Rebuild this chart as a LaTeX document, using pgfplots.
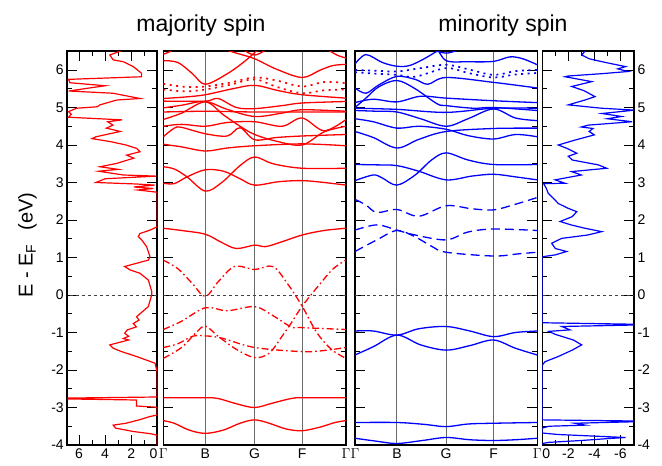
\documentclass[border=0pt]{standalone}
\usepackage{fontspec}
\setmainfont{Liberation Sans}
\usepackage{pgfplots}
\pgfplotsset{compat=1.18}

\definecolor{majred}{RGB}{255,0,0}
\definecolor{minblue}{RGB}{0,0,255}
\definecolor{kline}{RGB}{105,105,105}

\pgfplotsset{
  panel/.style={scale only axis, height=393.75pt, anchor=south west,
    ymin=-4, ymax=6.5, ytick={-4,...,6}, minor y tick num=1,
    tick align=inside, major tick length=10pt, minor tick length=5pt,
    axis line style={line width=1.6pt}, tick style={black, line width=0.9pt},
    tick label style={font=\fontsize{14}{16}\selectfont},
    /pgf/number format/assume math mode=true},
  band/.style={panel, xmin=0, xmax=1,
    xtick={0,0.23,0.5,0.76,1}, xticklabels={$\Gamma$,B,G,F,$\Gamma$},
    xmajorgrids, major x grid style={kline, line width=0.9pt},
    xtick style={draw=none}, yticklabels={}},
  ef/.style={dashed, black!75, line width=0.6pt, forget plot},
  maj/.style={majred, line width=1.3pt, smooth, tension=0.55},
  mino/.style={minblue, line width=1.3pt, smooth, tension=0.55},
  dd/.style={dash pattern=on 7pt off 3pt on 1.6pt off 3pt},
  dt/.style={dash pattern=on 2pt off 4.5pt, line width=1.7pt},
  ds/.style={dash pattern=on 9pt off 5pt},
}

\begin{document}
\begin{tikzpicture}

% ---------------- majority DOS ----------------
\begin{axis}[panel, at={(67.3pt,21pt)}, width=90pt,
  xmin=0, xmax=6.9, x dir=reverse, xtick={0,2,4,6},
  xticklabels={\makebox[0pt][r]{0},2,4,6},
  minor x tick num=1,
  yticklabels={-4,-3,-2,-1,0,1,2,3,4,5,6}]
\addplot[ef] coordinates {(0,0) (7.2,0)};
\addplot[majred, line width=1.2pt] coordinates {
(2.49,6.55)(3.64,6.4)(3.38,6.27)(2.6,6.22)(1.84,6.09)(1.2,5.91)(1.2,5.82)
(6.8,5.75)(6.7,5.66)(4.0,5.58)(6.8,5.44)(3.4,5.38)(1.33,5.24)(3.1,5.2)
(4.4,5.07)(4.6,5.02)(6.2,4.98)(6.8,4.89)(6.6,4.82)(6.8,4.74)(2.7,4.67)
(3.8,4.62)(3.4,4.53)(3.9,4.45)(2.85,4.36)(4.7,4.22)(5.0,4.17)(3.6,4.09)
(2.4,4.0)(1.59,3.91)(1.33,3.82)(2.35,3.73)(1.8,3.65)(3.1,3.51)(4.4,3.42)
(3.0,3.35)(4.5,3.3)(2.6,3.2)(0.1,3.17)(4.0,3.1)(4.7,3.0)(1.6,2.96)(0.2,2.93)
(1.8,2.88)(0.3,2.84)(1.5,2.8)(0,2.74)(0,1.82)(0.56,1.73)(1.33,1.64)
(1.46,1.56)(1.2,1.47)(0.82,1.29)(0.56,1.02)(0.69,0.93)(2.5,0.76)(2.1,0.67)
(1.33,0.58)(0.69,0.4)(0.43,0.1)(0.43,0)(0.69,-0.31)(1.59,-0.58)(1.4,-0.67)
(1.84,-0.76)(1.6,-0.85)(2.3,-0.93)(2.5,-1.02)(2.2,-1.1)(2.6,-1.16)(2.2,-1.2)
(3.64,-1.33)(3.38,-1.42)(2.74,-1.51)(1.59,-1.64)(0.17,-1.82)(0.05,-2.0)
(0,-2.05)(0,-2.72)(7.2,-2.75)(7.2,-2.77)(1.6,-2.8)(1.6,-2.96)(0.2,-2.99)
(0,-3.0)(0,-3.2)(0.56,-3.24)(1.4,-3.33)(2.4,-3.42)(3.38,-3.47)(3.2,-3.55)
(1.84,-3.64)(0.5,-3.7)(0,-3.74)(0,-4.05)};
\end{axis}

% ---------------- majority bands ----------------
\begin{axis}[band, at={(163.3pt,21pt)}, width=182.7pt]
\addplot[ef] coordinates {(0,0) (1,0)};
% valence
\addplot[maj] coordinates {(0,-3.35)(0.06,-3.42)(0.14,-3.6)(0.23,-3.69)(0.33,-3.6)(0.42,-3.42)(0.5,-3.33)(0.58,-3.42)(0.67,-3.57)(0.76,-3.62)(0.86,-3.52)(0.94,-3.4)(1,-3.35)};
\addplot[maj] coordinates {(0,-2.74)(0.23,-2.74)(0.3,-2.76)(0.4,-2.9)(0.5,-3.0)(0.6,-2.88)(0.7,-2.76)(0.76,-2.74)(1,-2.74)};
% bands near the Fermi level
\addplot[maj,dd] coordinates {(0,0.93)(0.08,0.7)(0.16,0.3)(0.23,-0.04)(0.3,0.35)(0.39,0.76)(0.5,0.68)(0.6,0.76)(0.68,0.3)(0.76,-0.3)(0.84,-1.0)(0.92,-1.45)(1,-1.69)};
\addplot[maj,dd] coordinates {(0,-1.69)(0.1,-1.4)(0.18,-1.0)(0.23,-0.83)(0.3,-1.1)(0.4,-1.45)(0.5,-1.67)(0.58,-1.55)(0.65,-1.1)(0.7,-0.75)(0.76,-0.3)(0.85,0.25)(0.93,0.7)(1,0.93)};
\addplot[maj,dd] coordinates {(0,-0.92)(0.1,-0.7)(0.23,-0.34)(0.35,-0.42)(0.5,-0.31)(0.6,-0.55)(0.7,-0.85)(0.76,-0.87)(1,-0.92)};
\addplot[maj,dd] coordinates {(0,-1.4)(0.08,-1.3)(0.16,-1.1)(0.23,-1.09)(0.32,-1.15)(0.5,-1.4)(0.76,-1.51)(0.88,-1.48)(1,-1.4)};
% conduction
\addplot[maj] coordinates {(0,1.78)(0.1,1.72)(0.23,1.62)(0.32,1.4)(0.4,1.24)(0.5,1.33)(0.56,1.29)(0.65,1.42)(0.76,1.6)(0.88,1.72)(1,1.78)};
\addplot[maj] coordinates {(0,2.98)(0.06,2.97)(0.13,3.15)(0.23,3.34)(0.33,3.3)(0.42,3.1)(0.5,2.93)(0.63,3.02)(0.76,3.05)(0.88,3.0)(1,2.93)};
\addplot[maj] coordinates {(0,3.42)(0.06,3.36)(0.13,3.15)(0.23,2.77)(0.32,3.0)(0.42,3.45)(0.5,3.68)(0.6,3.5)(0.76,3.38)(1,3.38)};
\addplot[maj] coordinates {(0,4.02)(0.1,3.95)(0.23,3.84)(0.35,3.92)(0.5,3.98)(0.76,4.03)(1,3.98)};
\addplot[maj] coordinates {(0,4.22)(0.06,4.45)(0.1,4.47)(0.23,4.3)(0.35,4.24)(0.42,4.46)(0.5,4.14)(0.62,4.2)(0.76,4.24)(1,4.28)};
\addplot[maj] coordinates {(0,4.68)(0.1,4.85)(0.23,5.15)(0.33,4.8)(0.42,4.5)(0.5,4.28)(0.62,4.1)(0.76,4.0)(0.88,4.35)(1,4.5)};
\addplot[maj] coordinates {(0,4.5)(0.1,4.55)(0.23,4.5)(0.35,4.6)(0.5,4.62)(0.65,4.5)(0.76,4.72)(0.88,4.38)(1,4.68)};
\addplot[maj] coordinates {(0,4.88)(0.23,4.9)(0.5,4.88)(0.76,4.88)(1,4.88)};
\addplot[maj] coordinates {(0,4.99)(0.1,5.06)(0.23,5.16)(0.35,4.95)(0.5,4.76)(0.65,4.85)(0.76,4.94)(1,4.9)};
\addplot[maj] coordinates {(0,5.17)(0.23,5.17)(0.3,5.24)(0.4,5.0)(0.5,4.97)(0.65,5.05)(0.76,5.12)(1,5.16)};
\addplot[maj] coordinates {(0,5.24)(0.12,5.28)(0.23,5.34)(0.38,5.5)(0.5,5.59)(0.63,5.45)(0.76,5.34)(1,5.25)};
\addplot[maj,dt] coordinates {(0,5.63)(0.12,5.55)(0.23,5.56)(0.36,5.66)(0.5,5.8)(0.62,5.72)(0.76,5.56)(0.88,5.68)(1,5.65)};
\addplot[maj,dt] coordinates {(0,5.48)(0.12,5.43)(0.23,5.48)(0.36,5.6)(0.5,5.75)(0.62,5.55)(0.76,5.38)(0.88,5.46)(1,5.48)};
\addplot[maj] coordinates {(0,6.25)(0.08,6.2)(0.16,5.9)(0.23,5.62)(0.35,5.9)(0.45,6.25)(0.53,6.6)};
\addplot[maj] coordinates {(0.3,6.6)(0.4,6.45)(0.5,6.3)(0.62,6.02)(0.76,5.8)(0.86,6.0)(0.93,6.12)(1,6.15)};
\addplot[maj] coordinates {(0.88,6.6)(0.95,6.4)(1,6.32)};
\addplot[maj] coordinates {(0.42,6.6)(0.5,6.4)(0.58,6.6)};
\addplot[maj] coordinates {(0,6.42)(0.04,6.5)(0.06,6.6)};
\end{axis}

% ---------------- minority bands ----------------
\begin{axis}[band, at={(355pt,21pt)}, width=182.3pt]
\addplot[ef] coordinates {(0,0) (1,0)};
\addplot[mino] coordinates {(0,-3.82)(0.12,-3.9)(0.23,-3.96)(0.37,-3.88)(0.5,-3.8)(0.63,-3.86)(0.76,-3.88)(0.88,-3.86)(1,-3.82)};
\addplot[mino] coordinates {(0,-3.4)(0.23,-3.4)(0.38,-3.45)(0.5,-3.51)(0.62,-3.44)(0.76,-3.42)(1,-3.4)};
\addplot[mino] coordinates {(0,-0.96)(0.1,-0.96)(0.23,-1.07)(0.35,-0.9)(0.5,-0.84)(0.63,-0.96)(0.76,-1.11)(0.88,-1.0)(1,-0.96)};
\addplot[mino] coordinates {(0,-1.6)(0.1,-1.38)(0.23,-1.07)(0.36,-1.33)(0.5,-1.47)(0.63,-1.35)(0.76,-1.2)(0.88,-1.42)(1,-1.6)};
% dashed bands
\addplot[mino,ds] coordinates {(0,2.55)(0.06,2.4)(0.12,2.2)(0.23,2.28)(0.35,2.1)(0.5,2.38)(0.64,2.3)(0.76,2.27)(0.88,2.42)(1,2.6)};
\addplot[mino,ds] coordinates {(0,1.73)(0.12,1.87)(0.23,1.73)(0.33,1.6)(0.5,1.47)(0.62,1.68)(0.76,1.76)(1,1.72)};
\addplot[mino,ds] coordinates {(0,1.16)(0.12,1.47)(0.23,1.72)(0.33,1.55)(0.42,1.3)(0.5,1.14)(0.76,1.04)(0.9,1.1)(1,1.14)};
% conduction
\addplot[mino] coordinates {(0,3.48)(0.12,3.47)(0.23,3.45)(0.35,3.3)(0.5,3.07)(0.64,3.17)(0.76,3.22)(0.88,3.15)(1,3.07)};
\addplot[mino] coordinates {(0,3.05)(0.1,3.2)(0.15,3.12)(0.23,2.93)(0.33,3.2)(0.42,3.6)(0.5,3.79)(0.62,3.6)(0.76,3.48)(1,3.48)};
\addplot[mino] coordinates {(0,4.36)(0.1,4.2)(0.23,3.92)(0.35,4.15)(0.5,4.36)(0.76,4.44)(1,4.45)};
\addplot[mino] coordinates {(0,4.7)(0.1,4.62)(0.23,4.45)(0.35,4.5)(0.5,4.42)(0.62,4.25)(0.76,4.16)(0.88,4.28)(1,4.22)};
\addplot[mino] coordinates {(0,4.92)(0.12,4.9)(0.23,4.88)(0.36,4.7)(0.5,4.5)(0.62,4.7)(0.76,4.96)(0.88,4.72)(1,4.65)};
\addplot[mino] coordinates {(0,4.98)(0.23,4.95)(0.5,4.87)(0.76,4.98)(1,4.98)};
\addplot[mino] coordinates {(0,5.13)(0.1,5.22)(0.23,5.15)(0.36,5.3)(0.5,5.25)(0.76,5.18)(1,5.13)};
\addplot[mino] coordinates {(0,5.52)(0.06,5.38)(0.13,5.6)(0.23,5.83)(0.33,5.75)(0.4,5.62)(0.5,5.8)(0.76,5.67)(1,5.52)};
\addplot[mino] coordinates {(0,5.0)(0.06,5.25)(0.13,5.55)(0.23,5.72)(0.33,5.5)(0.45,5.1)(0.5,5.05)(0.65,4.98)(0.76,5.0)(1,4.92)};
\addplot[mino,dt] coordinates {(0,6.0)(0.12,5.98)(0.23,5.96)(0.36,6.05)(0.5,6.14)(0.62,6.02)(0.76,5.87)(0.88,5.97)(1,6.0)};
\addplot[mino,dt] coordinates {(0,5.94)(0.12,5.9)(0.23,5.87)(0.33,5.82)(0.5,6.05)(0.62,5.92)(0.76,5.8)(0.88,5.88)(1,5.92)};
\addplot[mino] coordinates {(0,6.16)(0.06,6.41)(0.15,6.2)(0.23,6.1)(0.3,6.12)(0.38,6.3)(0.45,6.5)(0.5,6.6)};
\addplot[mino] coordinates {(0.45,6.6)(0.5,6.25)(0.62,6.22)(0.76,6.23)(0.85,6.35)(0.92,6.3)(1,6.14)};
\addplot[mino] coordinates {(0.4,6.6)(0.5,6.45)(0.6,6.6)};
\end{axis}

% ---------------- minority DOS ----------------
\begin{axis}[panel, at={(542.3pt,21pt)}, width=91.7pt,
  xmin=-7.05, xmax=0, x dir=reverse, xtick={0,-2,-4,-6},
  xticklabels={\makebox[0pt][l]{0},-2,-4,-6},
  minor x tick num=1, yticklabel pos=right, ytick pos=both,
  yticklabels={-4,-3,-2,-1,0,1,2,3,4,5,6}]
\addplot[ef] coordinates {(-7.2,0) (0,0)};
\addplot[minblue, line width=1.2pt] coordinates {
(-3.4,6.55)(-3.03,6.4)(-3.6,6.3)(-4.6,6.22)(-6.4,6.09)(-5.8,6.03)(-6.6,5.96)
(-4.5,5.9)(-2.0,5.84)(-1.75,5.82)(-3.8,5.69)(-2.26,5.56)(-3.2,5.45)(-4.05,5.29)
(-3.28,5.2)(-2.0,5.07)(-4.57,4.98)(-7.1,4.93)(-4.6,4.84)(-6.1,4.76)(-5.0,4.7)
(-6.9,4.62)(-3.54,4.53)(-3.0,4.48)(-3.9,4.44)(-3.6,4.36)(-4.0,4.27)(-2.5,4.13)
(-1.23,4.0)(-1.9,3.91)(-2.65,3.78)(-2.0,3.7)(-2.3,3.6)(-4.3,3.47)(-4.95,3.38)
(-2.26,3.29)(-3.0,3.2)(-0.98,3.07)(-1.75,2.98)(-0.1,2.97)(-0.3,2.85)(-0.46,2.71)
(-0.85,2.58)(-1.23,2.44)(-2.0,2.31)(-2.65,2.22)(-2.3,2.09)(-1.37,1.96)(-2.2,1.87)
(-3.28,1.78)(-4.57,1.69)(-3.5,1.6)(-1.49,1.51)(-0.72,1.38)(-1.0,1.24)(-1.87,1.16)
(-1.0,1.07)(0,1.02)(0,-0.74)(-7.1,-0.78)(-7.1,-0.8)(-1.5,-0.84)(-2.13,-0.93)
(-0.5,-0.97)(-1.0,-1.05)(-2.39,-1.2)(-3.03,-1.33)(-2.3,-1.47)(-1.23,-1.64)
(-0.2,-1.78)(0,-1.87)(0,-3.33)(-7.1,-3.36)(-7.1,-3.38)(-2.5,-3.42)(-3.3,-3.47)
(-0.5,-3.5)(0,-3.55)(0,-3.68)(-1.2,-3.72)(-6.4,-3.8)(-5.0,-3.83)(-3.0,-3.88)
(-0.5,-3.93)(0,-3.96)(0,-4.05)};
\end{axis}

\node[font=\fontsize{23}{26}\selectfont] at (201pt,440pt) {majority spin};
\node[font=\fontsize{23}{26}\selectfont] at (503pt,440pt) {minority spin};
\node[font=\fontsize{20}{22}\selectfont, rotate=90] at (27.5pt,221pt) {E - E\textsubscript{F}\hspace{0.7em}(eV)};

\pgfresetboundingbox
\useasboundingbox (0pt,0pt) rectangle (662pt,466pt);
\end{tikzpicture}
\end{document}
